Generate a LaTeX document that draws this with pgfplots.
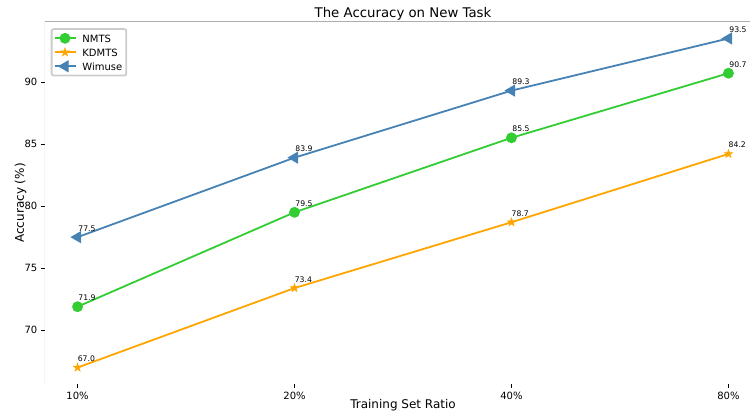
\documentclass[border=0pt]{standalone}
\usepackage{pgfplots}
\pgfplotsset{compat=1.18}
\usetikzlibrary{plotmarks}
\usepackage{fontspec}
\setmainfont{DejaVu Sans}
\definecolor{cgreen}{RGB}{50,205,50}
\definecolor{corange}{RGB}{255,165,0}
\definecolor{cblue}{RGB}{70,130,180}
\pgfdeclareplotmark{fstar}{%
  \pgfpathmoveto{\pgfpointpolar{90}{\pgfplotmarksize}}%
  \pgfpathlineto{\pgfpointpolar{126}{0.382\pgfplotmarksize}}%
  \pgfpathlineto{\pgfpointpolar{162}{\pgfplotmarksize}}%
  \pgfpathlineto{\pgfpointpolar{198}{0.382\pgfplotmarksize}}%
  \pgfpathlineto{\pgfpointpolar{234}{\pgfplotmarksize}}%
  \pgfpathlineto{\pgfpointpolar{270}{0.382\pgfplotmarksize}}%
  \pgfpathlineto{\pgfpointpolar{306}{\pgfplotmarksize}}%
  \pgfpathlineto{\pgfpointpolar{342}{0.382\pgfplotmarksize}}%
  \pgfpathlineto{\pgfpointpolar{18}{\pgfplotmarksize}}%
  \pgfpathlineto{\pgfpointpolar{54}{0.382\pgfplotmarksize}}%
  \pgfpathclose
  \pgfusepathqfillstroke
}
\begin{document}
\begin{tikzpicture}
\useasboundingbox (-45bp,-30bp) rectangle (705bp,384bp);
\clip (-45bp,-30bp) rectangle (705bp,384bp);
\begin{axis}[
  scale only axis, width=716bp, height=362bp,
  xmin=-0.15, xmax=3.15, ymin=65.675, ymax=94.825,
  xtick={0,1,2,3}, xticklabels={10\%,20\%,40\%,80\%},
  ytick={70,75,80,85,90},
  axis line style={draw=none},
  tick align=outside, xtick pos=bottom, ytick pos=left,
  major tick length=3.5bp,
  major tick style={black, line width=0.8bp},
  tick label style={font=\fontsize{10bp}{12bp}\selectfont},
  /pgf/number format/assume math mode=true,
  title={The Accuracy on New Task},
  every axis title/.style={font=\fontsize{13.3bp}{16bp}\selectfont, at={(rel axis cs:0.5,1)}, anchor=base, yshift=4bp},
  xlabel={Training Set Ratio},
  ylabel={Accuracy (\%)},
  every axis x label/.style={at={(rel axis cs:0.5,0)}, anchor=base, yshift=-24.5bp, font=\fontsize{12bp}{14bp}\selectfont},
  every axis y label/.style={at={(rel axis cs:0,0.5)}, xshift=-24.5bp, anchor=center, rotate=90, font=\fontsize{12bp}{14bp}\selectfont},
  legend cell align=left,
  legend image code/.code={\draw[mark repeat=2,mark phase=2] plot coordinates {(0bp,0bp) (10.5bp,0bp) (21bp,0bp)};},
  legend style={at={(0.008,0.983)}, anchor=north west, draw=black!20, rounded corners=2bp,
    font=\fontsize{10bp}{12bp}\selectfont, inner xsep=2bp, inner ysep=3.5bp,
    nodes={inner sep=2bp, text height=7.5bp, text depth=0bp}, row sep=2.5bp, column sep=4bp},
  nodes near coords={\pgfmathprintnumber[fixed,fixed zerofill,precision=1]{\pgfplotspointmeta}},
  every node near coord/.append style={anchor=base west, inner sep=0pt, yshift=6bp, font=\fontsize{7.7bp}{9bp}\selectfont, text=black},
  line width=1.8bp,
]
\addplot[color=cgreen, mark=*, mark size=4.5bp, mark options={solid}] coordinates {(0,71.9) (1,79.5) (2,85.5) (3,90.7)};
\addlegendentry{NMTS}
\addplot[color=corange, mark=fstar, mark size=4.4bp, mark options={solid, line width=0.5bp}] coordinates {(0,67.0) (1,73.4) (2,78.7) (3,84.2)};
\addlegendentry{KDMTS}
\addplot[color=cblue, mark=triangle*, mark size=5.3bp, mark options={solid, rotate=90}] coordinates {(0,77.5) (1,83.9) (2,89.3) (3,93.5)};
\addlegendentry{Wimuse}
\draw[color=black!32, line width=1bp] (rel axis cs:0,0) -- (rel axis cs:0,1) -- (rel axis cs:1,1);
\draw[color=black, line width=1bp] (rel axis cs:0,0) -- (rel axis cs:1,0);
\end{axis}
\end{tikzpicture}
\end{document}
